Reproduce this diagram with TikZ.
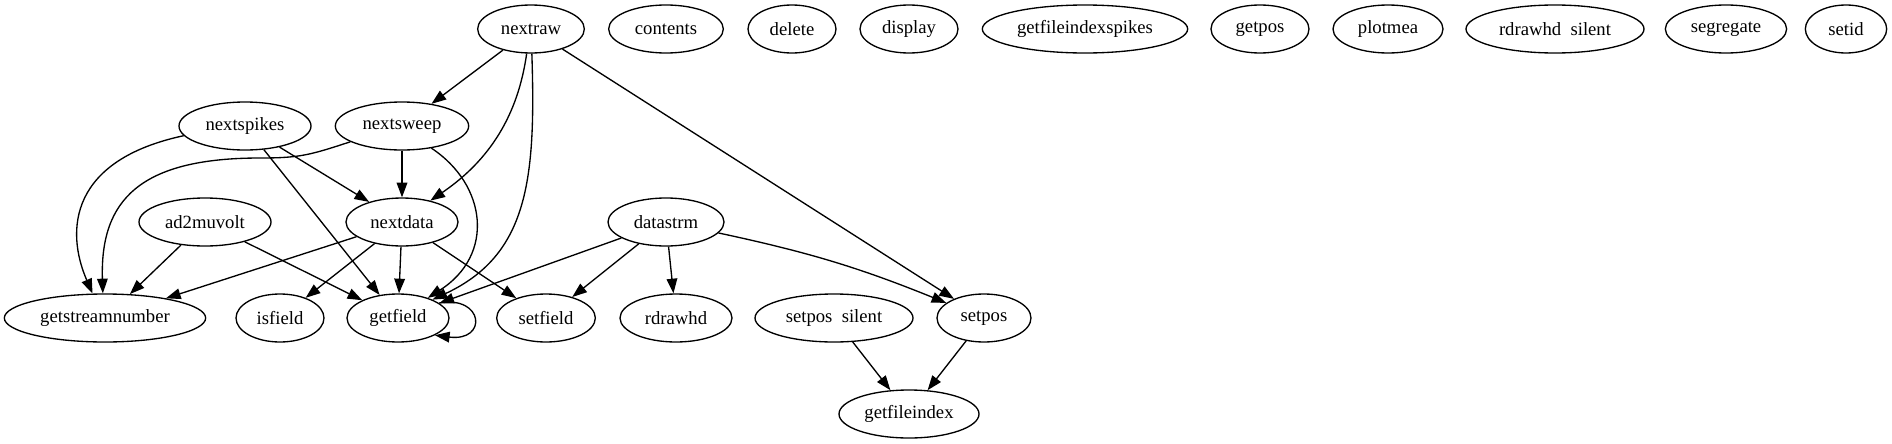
\documentclass[tikz,border=0pt]{standalone}
\usepackage{fontspec}
\setmainfont{Liberation Serif}
\usetikzlibrary{shapes.geometric,arrows.meta}
\begin{document}
\begin{tikzpicture}[x=0.75pt,y=-0.75pt,
            fn/.style={draw,ellipse,minimum height=36pt,inner sep=0pt,line width=1pt,font=\fontsize{14}{16}\selectfont},
            call/.style={draw,line width=1pt,-{Triangle[length=11pt,width=8pt]}}]
            \useasboundingbox (0,0) rectangle (1892,443);
            % top row
            \node[fn,minimum width=80pt] (nextraw) at (531,29) {nextraw};
            \node[fn,minimum width=86pt] (contents) at (666,29) {contents};
            \node[fn,minimum width=66pt] (delete) at (792,29) {delete};
            \node[fn,minimum width=73.5pt] (display) at (909,29) {display};
            \node[fn,minimum width=154pt] (getfileindexspikes) at (1085,29) {getfileindexspikes};
            \node[fn,minimum width=73.5pt] (getpos) at (1260,29) {getpos};
            \node[fn,minimum width=82.5pt] (plotmea) at (1388,29) {plotmea};
            \node[fn,minimum width=133.5pt] (rdrawhdsilent) at (1555,29) {rdrawhd~~silent};
            \node[fn,minimum width=91pt] (segregate) at (1726,29) {segregate};
            \node[fn,minimum width=61pt] (setid) at (1846,29) {setid};
            % second and third rows
            \node[fn,minimum width=99pt] (nextspikes) at (245,126) {nextspikes};
            \node[fn,minimum width=100pt] (nextsweep) at (402,126) {nextsweep};
            \node[fn,minimum width=99pt] (ad2muvolt) at (205,222) {ad2muvolt};
            \node[fn,minimum width=84pt] (nextdata) at (402,222) {nextdata};
            \node[fn,minimum width=87pt] (datastrm) at (666,222) {datastrm};
            % bottom rows
            \node[fn,minimum width=151pt] (getstreamnumber) at (105,318) {getstreamnumber};
            \node[fn,minimum width=66pt] (isfield) at (280,318) {isfield};
            \node[fn,minimum width=76.5pt] (getfield) at (398,318) {getfield};
            \node[fn,minimum width=74pt] (setfield) at (546,318) {setfield};
            \node[fn,minimum width=84pt] (rdrawhd) at (676,318) {rdrawhd};
            \node[fn,minimum width=118.5pt] (setpossilent) at (834,318) {setpos~~silent};
            \node[fn,minimum width=70.5pt] (setpos) at (984,318) {setpos};
            \node[fn,minimum width=105pt] (getfileindex) at (909,414) {getfileindex};
            % calls
            \draw[call] (nextraw) -- (nextsweep);
            \draw[call] (nextraw.-100) .. controls (518,115) and (490,160) .. (nextdata.37);
            \draw[call] (nextraw.-88) .. controls (536,180) and (528,255) .. (getfield.28);
            \draw[call] (nextraw) -- (setpos);
            \draw[call] (nextspikes.-171) .. controls (70,160) and (65,230) .. (getstreamnumber.117);
            \draw[call] (nextspikes) -- (getfield);
            \draw[call] (nextspikes) -- (nextdata);
            \draw[call] (nextsweep.-163) .. controls (310,155) and (300,158) .. (260,158)
                .. controls (140,158) and (100,200) .. (getstreamnumber.95);
            \draw[call] (nextsweep) -- (nextdata);
            \draw[call] (nextsweep.-37) .. controls (487,185) and (495,255) .. (getfield.34);
            \draw[call] (ad2muvolt) -- (getstreamnumber);
            \draw[call] (ad2muvolt) -- (getfield);
            \draw[call] (nextdata) -- (getstreamnumber);
            \draw[call] (nextdata) -- (isfield);
            \draw[call] (nextdata) -- (getfield);
            \draw[call] (nextdata) -- (setfield);
            \draw[call] (datastrm) -- (getfield);
            \draw[call] (datastrm) -- (setfield);
            \draw[call] (datastrm) -- (rdrawhd);
            \draw[call] (datastrm) to[bend left=5] (setpos);
            \draw[call] (getfield.20) .. controls (484,295) and (488,342) .. (getfield.-25);
            \draw[call] (setpossilent) -- (getfileindex);
            \draw[call] (setpos) -- (getfileindex);
        \end{tikzpicture}
\end{document}
